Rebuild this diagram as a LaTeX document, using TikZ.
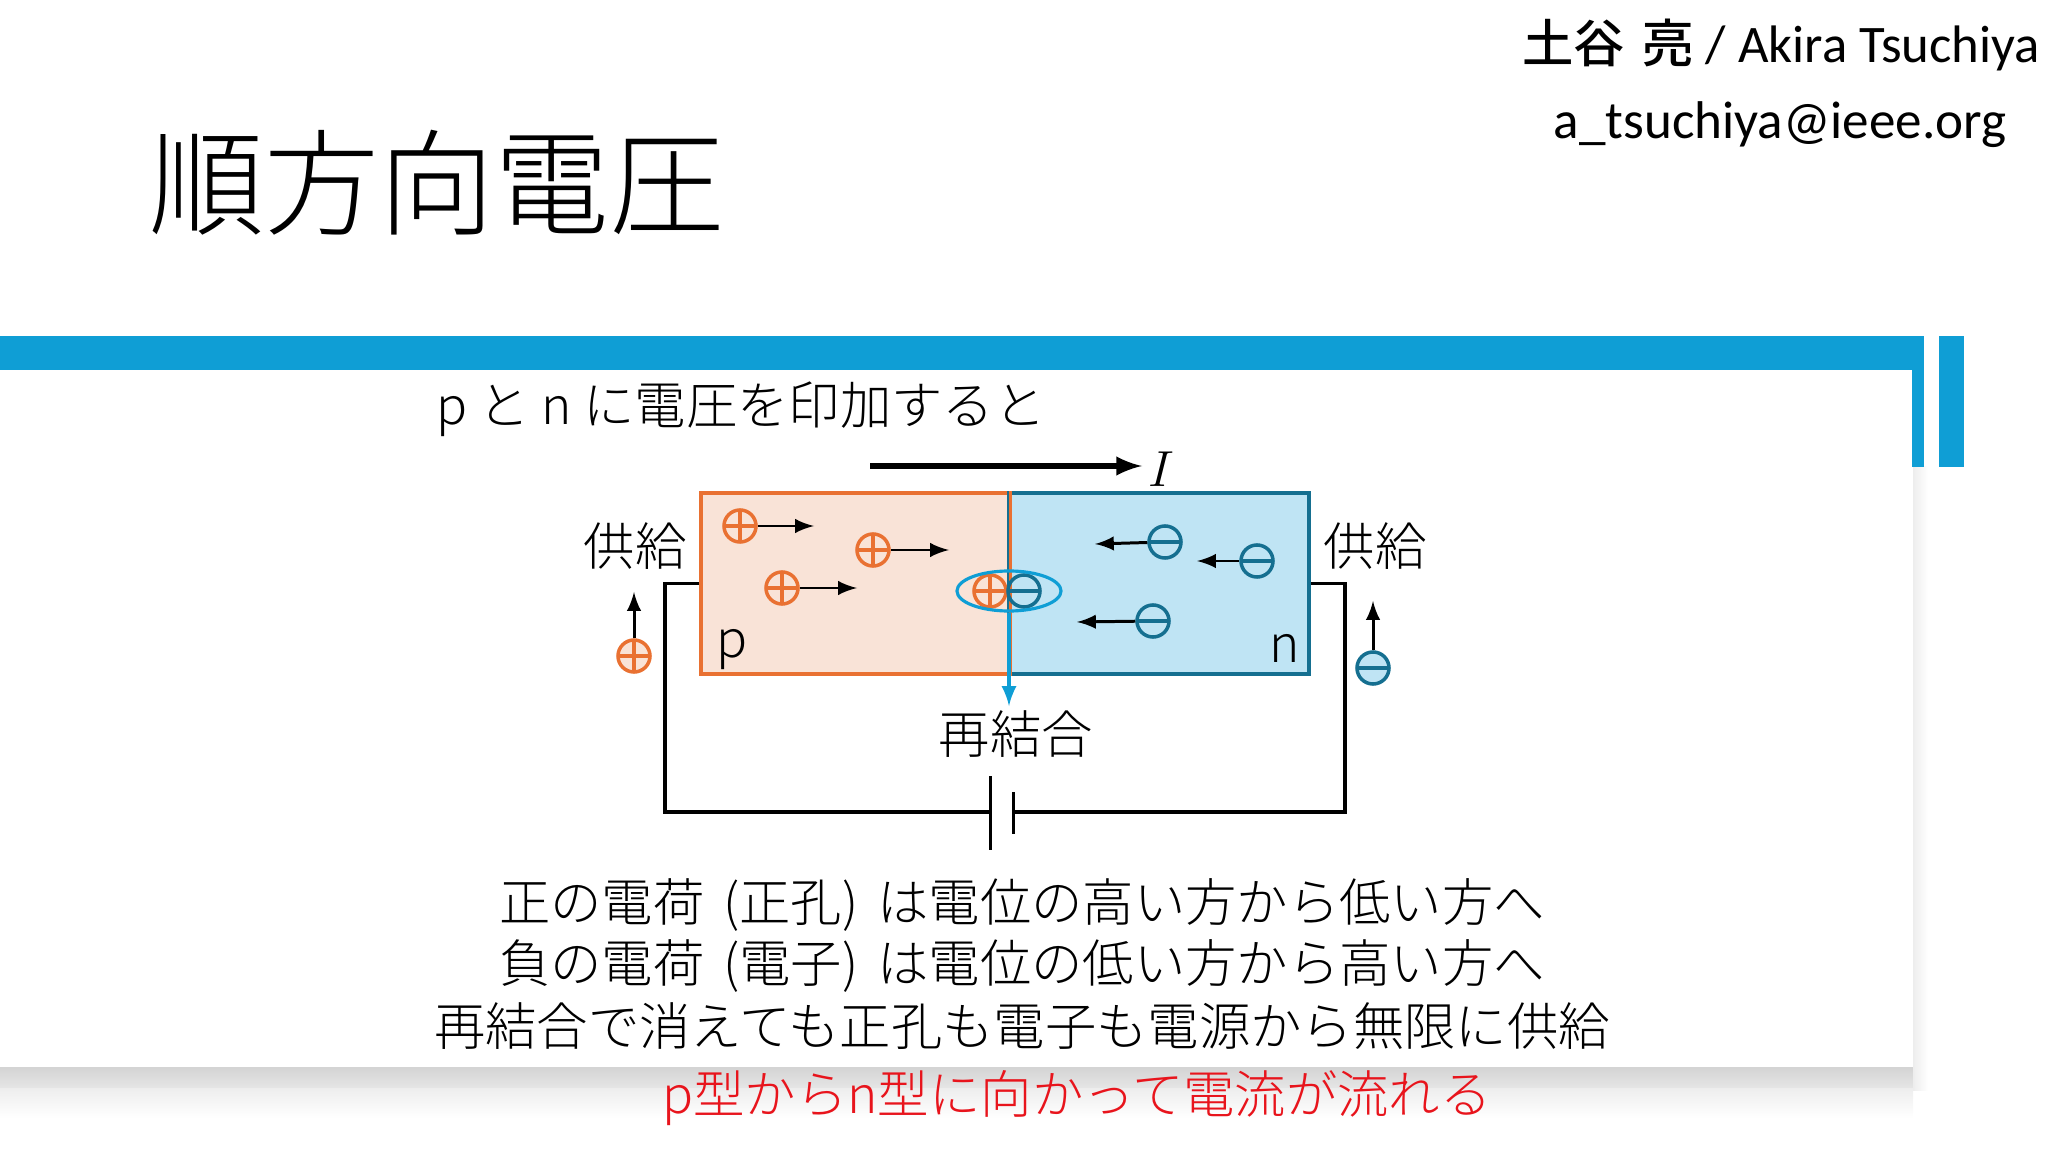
\documentclass[tikz,border=0pt]{standalone}
\usepackage{fontspec}
\usepackage{tikz}
\usetikzlibrary{shapes,shapes.geometric,arrows}
\setmainfont{Noto Sans CJK JP Light}
\newfontfamily\namefont{Noto Sans CJK JP Medium}
\newfontfamily\mailfont{Carlito}
\definecolor{barblue}{HTML}{0F9ED5}
\definecolor{holeorange}{HTML}{E97132}
\definecolor{holefill}{HTML}{F9E3D7}
\definecolor{elecblue}{HTML}{156F90}
\definecolor{elecfill}{HTML}{BFE4F4}
\definecolor{flowred}{HTML}{E8141C}
\newcommand{\sz}[1]{\fontsize{#1}{#1}\selectfont}
\tikzset{
  txt/.style={inner sep=0pt,font=\sz{14.6}},
  hole/.style={circle,draw=holeorange,line width=1pt,minimum size=0.32cm,inner sep=0pt,
    path picture={\draw[holeorange,line width=0.9pt]
      (path picture bounding box.north) -- (path picture bounding box.south)
      (path picture bounding box.west) -- (path picture bounding box.east);}},
  elec/.style={circle,draw=elecblue,line width=1pt,minimum size=0.32cm,inner sep=0pt,
    path picture={\draw[elecblue,line width=0.9pt]
      (path picture bounding box.west) -- (path picture bounding box.east);}},
  wire/.style={black,line width=0.95pt},
  move/.style={->,black,line width=0.85pt}
}
\begin{document}
\begin{tikzpicture}[x=0.01cm,y=-0.01cm,every path/.style={>=latex}]
  \useasboundingbox (0,0) rectangle (2048,1152);
  % slide frame
  \shade[top color=black!17,bottom color=black!10] (0,1067) rectangle (1913,1088);
  \shade[top color=black!7,bottom color=white] (0,1088) rectangle (1913,1118);
  \shade[left color=black!7,right color=white] (1913,467) rectangle (1928,1090);
  \fill[barblue] (0,336) rectangle (1924,370);
  \fill[barblue] (1912,370) rectangle (1924,467);
  \fill[barblue] (1939,336) rectangle (1964,467);
  % texts
  \node[txt,font=\sz{32.7}]       (title) at (437,183)  {順方向電圧};
  \node[txt,font=\namefont\sz{14.6}] (author) at (1781,45) {土谷\hspace{0.35em}亮{\mailfont\sz{15} / Akira Tsuchiya}};
  \node[txt,font=\mailfont\sz{15.1}] (mail) at (1780,125) {a\_tsuchiya@ieee.org};
  \node[txt]                      (lead) at (741,409)   {p と n に電圧を印加すると};
  \node[txt]                      (lineA) at (1022,905) {正の電荷\hspace{0.15em} (正孔) \hspace{0.15em}は電位の高い方から低い方へ};
  \node[txt]                      (lineB) at (1022,966) {負の電荷\hspace{0.15em} (電子) \hspace{0.15em}は電位の低い方から高い方へ};
  \node[txt]                      (lineC) at (1022,1026) {再結合で消えても正孔も電子も電源から無限に供給};
  \node[txt,text=flowred]         (lineD) at (1077,1098) {p型からn型に向かって電流が流れる};
  % current
  \coordinate (curA) at (870,466);
  \coordinate (curB) at (1142,466);
  \draw[->,black,line width=1.5pt] (curA) -- (curB);
  \node[inner sep=0pt,font=\sz{14}] (cur) at (1161,469) {$I$};
  % junction
  \node[draw=holeorange,fill=holefill,line width=0.95pt,minimum width=3.08cm,minimum height=1.81cm,inner sep=0pt] (pside) at (855,583.5) {};
  \node[draw=elecblue,fill=elecfill,line width=0.95pt,minimum width=3.0cm,minimum height=1.81cm,inner sep=0pt] (nside) at (1159,583.5) {};
  \draw[holeorange,line width=0.95pt] (pside.north east) -- (pside.south east);
  \node[txt] (plabel) at (732,650) {p};
  \node[txt] (nlabel) at (1285,648) {n};
  \node[txt] (supA) at (635,546)  {供給};
  \node[txt] (supB) at (1375,546) {供給};
  \node[txt] (recomb) at (1016,734) {再結合};
  % carriers in the p side
  \node[hole] (h1) at (740,526) {};
  \node[hole] (h2) at (873,550) {};
  \node[hole] (h3) at (782,588) {};
  \node[hole] (h4) at (990,591) {};
  \coordinate (h1e) at (814,526);
  \coordinate (h2e) at (949,550);
  \coordinate (h3e) at (857,588);
  \draw[move] (h1) -- (h1e);
  \draw[move] (h2) -- (h2e);
  \draw[move] (h3) -- (h3e);
  % carriers in the n side
  \node[elec] (e1) at (1165,542) {};
  \node[elec] (e2) at (1257,561) {};
  \node[elec] (e3) at (1153,621) {};
  \node[elec] (e4) at (1024,591) {};
  \coordinate (e1e) at (1095,544);
  \coordinate (e2e) at (1197,561);
  \coordinate (e3e) at (1077,622);
  \draw[move] (e1) -- (e1e);
  \draw[move] (e2) -- (e2e);
  \draw[move] (e3) -- (e3e);
  % recombination
  \node[ellipse,draw=barblue,line width=0.9pt,minimum width=1.04cm,minimum height=0.4cm,inner sep=0pt] (pair) at (1009,591) {};
  \coordinate (recEnd) at (1009,706);
  \draw[->,barblue,line width=0.95pt] (pair.south) -- (recEnd);
  % supply
  \node[hole,fill=holefill] (hs) at (634,656) {};
  \node[elec,fill=elecfill] (es) at (1373,668) {};
  \coordinate (hsEnd) at (634,592);
  \coordinate (esEnd) at (1373,601);
  \draw[move] (hs) -- (hsEnd);
  \draw[move] (es) -- (esEnd);
  % circuit
  \coordinate (wireA) at (665,583.5);
  \coordinate (wireB) at (665,812);
  \coordinate (wireC) at (1345,812);
  \coordinate (wireD) at (1345,583.5);
  \coordinate (batA) at (990.5,812);
  \coordinate (batB) at (1013.5,812);
  \coordinate (plateA) at (990.5,776);
  \coordinate (plateB) at (990.5,850);
  \coordinate (plateC) at (1013.5,792);
  \coordinate (plateD) at (1013.5,834);
  \draw[wire] (pside.west) -- (wireA) -- (wireB) -- (batA);
  \draw[wire] (nside.east) -- (wireD) -- (wireC) -- (batB);
  \draw[wire] (plateA) -- (plateB);
  \draw[wire] (plateC) -- (plateD);
\end{tikzpicture}
\end{document}
